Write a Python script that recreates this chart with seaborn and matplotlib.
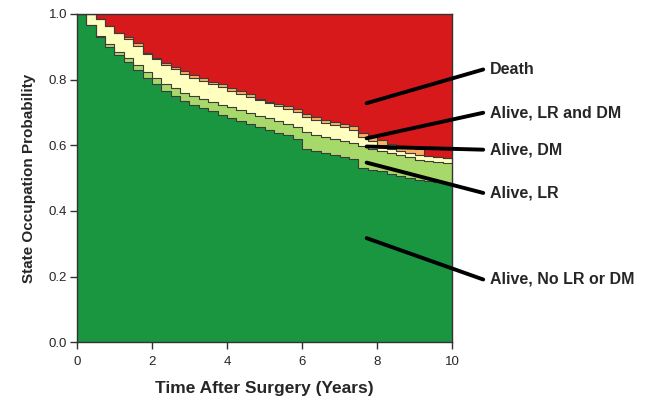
import matplotlib
matplotlib.use("Agg")
import matplotlib.pyplot as plt
import numpy as np
import seaborn as sns

# Time grid (years after surgery)
years = [0, 0.25, 0.5, 0.75, 1.0, 1.25, 1.5, 1.75, 2.0, 2.25, 2.5, 2.75, 3.0, 3.25,
         3.5, 3.75, 4.0, 4.25, 4.5, 4.75, 5.0, 5.25, 5.5, 5.75, 6.0, 6.25, 6.5, 6.75,
         7.0, 7.25, 7.5, 7.75, 8.0, 8.25, 8.5, 8.75, 9.0, 9.25, 9.5, 9.75, 10.0]

# State occupation probabilities
no_lr_dm = [1.000, 0.965, 0.930, 0.900, 0.875, 0.852, 0.830, 0.805, 0.785, 0.765,
            0.750, 0.735, 0.722, 0.713, 0.703, 0.693, 0.683, 0.674, 0.665, 0.655,
            0.647, 0.638, 0.630, 0.620, 0.590, 0.583, 0.577, 0.571, 0.565, 0.558,
            0.532, 0.526, 0.520, 0.513, 0.506, 0.500, 0.494, 0.490, 0.488, 0.486, 0.485]
lr_only = [0.000, 0.002, 0.004, 0.007, 0.010, 0.013, 0.015, 0.017, 0.019, 0.021,
           0.023, 0.025, 0.027, 0.028, 0.030, 0.031, 0.032, 0.033, 0.034, 0.035,
           0.035, 0.036, 0.036, 0.037, 0.050, 0.048, 0.047, 0.047, 0.048, 0.048,
           0.065, 0.064, 0.063, 0.063, 0.064, 0.063, 0.062, 0.061, 0.060, 0.060, 0.060]
dm_only = [0.000, 0.033, 0.050, 0.055, 0.058, 0.058, 0.057, 0.057, 0.058, 0.058,
           0.058, 0.057, 0.056, 0.055, 0.053, 0.052, 0.050, 0.049, 0.048, 0.047,
           0.046, 0.045, 0.044, 0.043, 0.045, 0.045, 0.044, 0.043, 0.042, 0.040,
           0.028, 0.022, 0.016, 0.012, 0.012, 0.013, 0.014, 0.016, 0.016, 0.016, 0.016]
lr_and_dm = [0.000, 0.000, 0.000, 0.000, 0.000, 0.008, 0.010, 0.003, 0.005, 0.006,
             0.008, 0.008, 0.009, 0.008, 0.008, 0.010, 0.010, 0.010, 0.008, 0.005,
             0.005, 0.008, 0.010, 0.010, 0.009, 0.010, 0.010, 0.010, 0.011, 0.012,
             0.012, 0.020, 0.018, 0.015, 0.014, 0.015, 0.018, 0.000, 0.000, 0.000, 0.000]

state_labels = ["Alive, No LR or DM", "Alive, LR", "Alive, DM", "Alive, LR and DM", "Death"]
state_colors = ["#1a9641", "#a6d96a", "#ffffbf", "#fdae61", "#d7191c"]
label_points = [(7.72, 0.317), (7.72, 0.547), (7.72, 0.596), (7.72, 0.621), (7.72, 0.728)]
label_ypos = [0.296, 0.514, 0.623, 0.716, 0.825]

sns.set_style("ticks")
plt.rcParams["font.family"] = ["Liberation Sans", "DejaVu Sans"]

fig, ax = plt.subplots(figsize=(6.46, 3.97), dpi=100)
fig.subplots_adjust(left=0.119, right=0.700, bottom=0.138, top=0.965)

bands = [np.array(no_lr_dm), np.array(lr_only), np.array(dm_only), np.array(lr_and_dm)]
lower = np.zeros(len(years))
boundaries = []
for band, color in zip(bands, state_colors[:4]):
    upper = lower + band
    ax.fill_between(years, lower, upper, step="post", color=color, lw=0)
    boundaries.append(upper)
    lower = upper
ax.fill_between(years, lower, np.ones(len(years)), step="post", color=state_colors[4], lw=0)

for b in boundaries:
    sns.lineplot(x=years, y=b, drawstyle="steps-post", color="#3c3c3c", lw=0.8, ax=ax)

ax.set_xlim(0, 10)
ax.set_ylim(0, 1)
ax.set_xticks([0, 2, 4, 6, 8, 10])
ax.set_yticks([0.0, 0.2, 0.4, 0.6, 0.8, 1.0])
ax.set_yticklabels(["0.0", "0.2", "0.4", "0.6", "0.8", "1.0"])
ax.tick_params(axis="both", direction="out", length=5, width=1, color="#333333",
               labelsize=9.5)
ax.tick_params(axis="x", pad=5)
ax.tick_params(axis="y", pad=2)
for spine in ax.spines.values():
    spine.set_visible(True)
    spine.set_color("#333333")
    spine.set_linewidth(1)

ax.set_xlabel("Time After Surgery (Years)", fontsize=12.5, fontweight="bold", labelpad=9)
ax.set_ylabel("State Occupation Probability", fontsize=11, fontweight="bold", labelpad=9)

# Labels with leader lines into each region
for label, point, ypos in zip(state_labels, label_points, label_ypos):
    ax.annotate("", xy=point, xycoords="data", xytext=(0.748, ypos),
                textcoords="figure fraction",
                arrowprops=dict(arrowstyle="-", lw=2.8, color="black",
                                shrinkA=0, shrinkB=0),
                annotation_clip=False)
    fig.text(0.758, ypos, label, fontsize=11.5, fontweight="bold", ha="left", va="center")

fig.savefig("out.png", dpi=100)
